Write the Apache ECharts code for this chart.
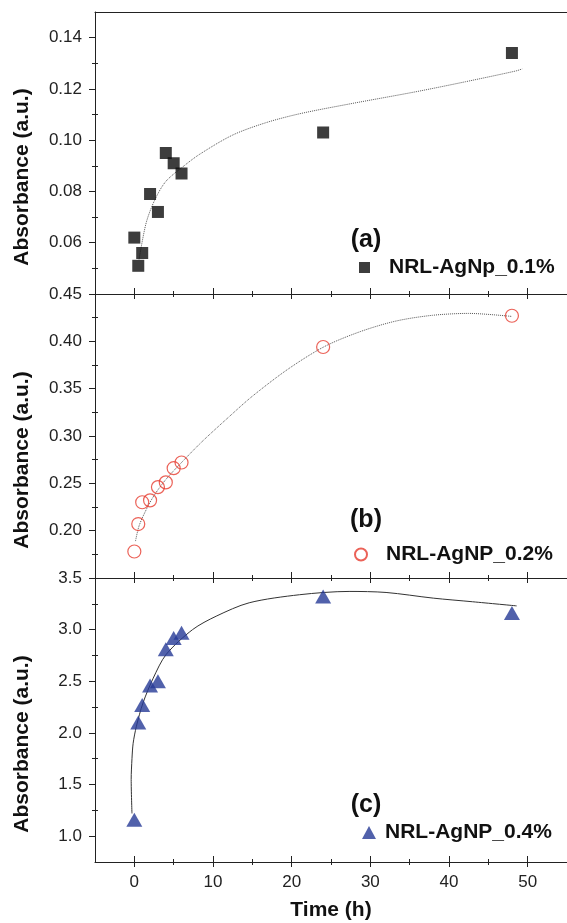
<!DOCTYPE html>
<html>
<head>
<meta charset="utf-8">
<script src="https://cdn.jsdelivr.net/npm/echarts@6/dist/echarts.min.js"></script>
<style>
  html, body { margin: 0; padding: 0; background: #fff; }
  #chart { width: 567px; height: 923px; }
</style>
</head>
<body>
<div id="chart"></div>
<script>
// Sampling times (h)
const timeH = [0, 0.5, 1, 2, 3, 4, 5, 6, 24, 48];

// Measured absorbance for each AgNP concentration
const absA = [0.062, 0.051, 0.056, 0.079, 0.072, 0.095, 0.091, 0.087, 0.103, 0.134];
const absB = [0.178, 0.207, 0.230, 0.232, 0.246, 0.251, 0.266, 0.272, 0.394, 0.427];
const absC = [1.16, 2.10, 2.27, 2.46, 2.50, 2.81, 2.92, 2.97, 3.32, 3.16];

// Trend curves, sampled as [time, absorbance]
const fitA = [[0.6, 0.0535], [1.5, 0.0677], [2.6, 0.0767], [4, 0.0839], [6.2, 0.0897], [8.3, 0.0945],
  [12.5, 0.1020], [16.7, 0.1068], [21, 0.1103], [27.3, 0.1141], [35.8, 0.1189], [42.1, 0.1228],
  [48.5, 0.127], [49.3, 0.1278]];
const fitB = [[0.15, 0.189], [0.6, 0.205], [1.5, 0.222], [2.5, 0.237], [4, 0.254], [6, 0.272],
  [8.6, 0.294], [12, 0.320], [15, 0.342], [19.6, 0.371], [24.2, 0.3946], [28.8, 0.4105],
  [33.3, 0.4215], [37.9, 0.4275], [42.5, 0.4295], [48, 0.4263]];
const fitC = [[-0.3, 1.22], [-0.4, 1.55], [-0.3, 1.75], [-0.15, 1.9], [0.25, 2.06], [1.1, 2.29],
  [2.4, 2.53], [4.05, 2.76], [7.4, 3.0], [10.4, 3.13], [14.6, 3.26], [21, 3.338], [27.3, 3.37],
  [32, 3.36], [38, 3.305], [43, 3.27], [48.6, 3.23]];

// Series names and panel tags
const seriesNames = ['NRL-AgNp_0.1%', 'NRL-AgNP_0.2%', 'NRL-AgNP_0.4%'];
const panelTags = ['(a)', '(b)', '(c)'];

// Axis ticks
const xMajor = [0, 10, 20, 30, 40, 50];
const xMinor = [5, 15, 25, 35, 45];
const yMajorA = [0.06, 0.08, 0.10, 0.12, 0.14];
const yMinorA = [0.05, 0.07, 0.09, 0.11, 0.13];
const yMajorB = [0.20, 0.25, 0.30, 0.35, 0.40, 0.45];
const yMinorB = [0.175, 0.225, 0.275, 0.325, 0.375, 0.425];
const yMajorC = [1.0, 1.5, 2.0, 2.5, 3.0, 3.5];
const yMinorC = [1.25, 1.75, 2.25, 2.75, 3.25];

const FONT = '"Liberation Sans", Arial, Helvetica, sans-serif';
const AX = '#222';

const grids = [
  { left: 95, right: -2, top: 12, height: 282 },
  { left: 95, right: -2, top: 294, height: 284 },
  { left: 95, right: -2, top: 578, height: 284 }
];

function tick(values, inside, length) {
  return { show: true, inside: inside, length: length, customValues: values,
           lineStyle: { color: AX, width: 1 } };
}

function xAxesFor(g, withLabels) {
  const base = { type: 'value', gridIndex: g, min: -5, max: 55, position: 'bottom',
                 splitLine: { show: false } };
  const main = Object.assign({}, base, {
    axisLine: { show: true, onZero: false, lineStyle: { color: AX, width: 1 } },
    axisTick: tick(xMajor, false, 5),
    axisLabel: withLabels
      ? { show: true, customValues: xMajor, fontFamily: FONT, fontSize: 17, color: '#222', margin: 12 }
      : { show: false }
  });
  if (withLabels) {
    Object.assign(main, {
      name: 'Time (h)', nameLocation: 'middle', nameGap: 38,
      nameTextStyle: { fontFamily: FONT, fontSize: 21, fontWeight: 'bold', color: '#111' }
    });
  }
  const hidden = { axisLine: { show: false, onZero: false }, axisLabel: { show: false } };
  return [
    main,
    Object.assign({}, base, hidden, { axisTick: tick(xMajor, true, 6) }),
    Object.assign({}, base, hidden, { axisTick: tick(xMinor, false, 3) }),
    Object.assign({}, base, hidden, { axisTick: tick(xMinor, true, 3) })
  ];
}

function yAxesFor(g, min, max, major, minor, digits) {
  const base = { type: 'value', gridIndex: g, min: min, max: max, position: 'left',
                 splitLine: { show: false } };
  const main = Object.assign({}, base, {
    axisLine: { show: true, onZero: false, lineStyle: { color: AX, width: 1 } },
    axisTick: tick(major, false, 6),
    axisLabel: { show: true, customValues: major, formatter: v => v.toFixed(digits),
                 fontFamily: FONT, fontSize: 17, color: '#222', margin: 13 },
    name: 'Absorbance (a.u.)', nameLocation: 'middle', nameGap: 62,
    nameTextStyle: { fontFamily: FONT, fontSize: 21, fontWeight: 'bold', color: '#111',
                     padding: [0, 48, 0, 0] }
  });
  const hidden = { axisLine: { show: false, onZero: false }, axisLabel: { show: false } };
  return [
    main,
    Object.assign({}, base, hidden, { axisTick: tick(minor, false, 3) }),
    Object.assign({}, base, hidden, { axisTick: tick(minor, true, 3) })
  ];
}

const xAxes = [].concat(xAxesFor(0, false), xAxesFor(1, false), xAxesFor(2, true));
// top frame line of the first panel
xAxes.push({ type: 'value', gridIndex: 0, min: -5, max: 55, position: 'top',
             axisLine: { show: true, onZero: false, lineStyle: { color: AX, width: 1 } },
             axisTick: { show: false }, axisLabel: { show: false }, splitLine: { show: false } });

const yAxes = [].concat(
  yAxesFor(0, 0.04, 0.15, yMajorA, yMinorA, 2),
  yAxesFor(1, 0.15, 0.45, yMajorB, yMinorB, 2),
  yAxesFor(2, 0.75, 3.5, yMajorC, yMinorC, 1)
);

function pairs(ys) { return timeH.map((t, i) => [t, ys[i]]); }

function fitLine(g, data, color, type) {
  return { type: 'line', xAxisIndex: 4 * g, yAxisIndex: 3 * g, data: data,
           smooth: 0.3, showSymbol: false, silent: true, z: 1,
           lineStyle: { color: color, width: 1, type: type } };
}

const series = [
  fitLine(0, fitA, '#555', 'dotted'),
  fitLine(1, fitB, '#555', 'dotted'),
  fitLine(2, fitC, '#333', 'solid'),
  { name: seriesNames[0], type: 'scatter', xAxisIndex: 0, yAxisIndex: 0, data: pairs(absA),
    symbol: 'rect', symbolSize: 12, z: 3,
    itemStyle: { color: '#0d0d0d' } },
  { name: seriesNames[1], type: 'scatter', xAxisIndex: 4, yAxisIndex: 3, data: pairs(absB),
    symbol: 'circle', symbolSize: 13, z: 3,
    itemStyle: { color: 'rgba(255,255,255,0)', borderColor: '#e63b2e', borderWidth: 1.2 } },
  { name: seriesNames[2], type: 'scatter', xAxisIndex: 8, yAxisIndex: 6, data: pairs(absC),
    symbol: 'triangle', symbolSize: [16, 14], z: 3,
    itemStyle: { color: '#263a96' } }
];

const legendText = { fontFamily: FONT, fontSize: 21, fontWeight: 'bold', color: '#111' };
const legends = [
  { data: [seriesNames[0]], left: 359, top: 257, padding: 0, itemWidth: 11, itemHeight: 11,
    textStyle: Object.assign({}, legendText, { padding: [0, 0, 0, 14] }) },
  { data: [seriesNames[1]], left: 354, top: 544, padding: 0, itemWidth: 12, itemHeight: 12,
    textStyle: Object.assign({}, legendText, { padding: [0, 0, 0, 14] }) },
  { data: [seriesNames[2]], left: 362, top: 822, padding: 0, itemWidth: 14, itemHeight: 13,
    textStyle: Object.assign({}, legendText, { padding: [0, 0, 0, 4] }) }
];

const tagY = [240, 520, 805];
const graphics = panelTags.map((txt, i) => ({
  type: 'text', x: 366, y: tagY[i], silent: true,
  style: { text: txt, font: 'bold 25px ' + FONT, fill: '#111', align: 'center', verticalAlign: 'middle' }
}));

const chart = echarts.init(document.getElementById('chart'), null, { renderer: 'canvas' });
chart.setOption({
  animation: false,
  backgroundColor: '#fff',
  grid: grids,
  xAxis: xAxes,
  yAxis: yAxes,
  legend: legends,
  graphic: graphics,
  series: series
});
</script>
</body>
</html>
